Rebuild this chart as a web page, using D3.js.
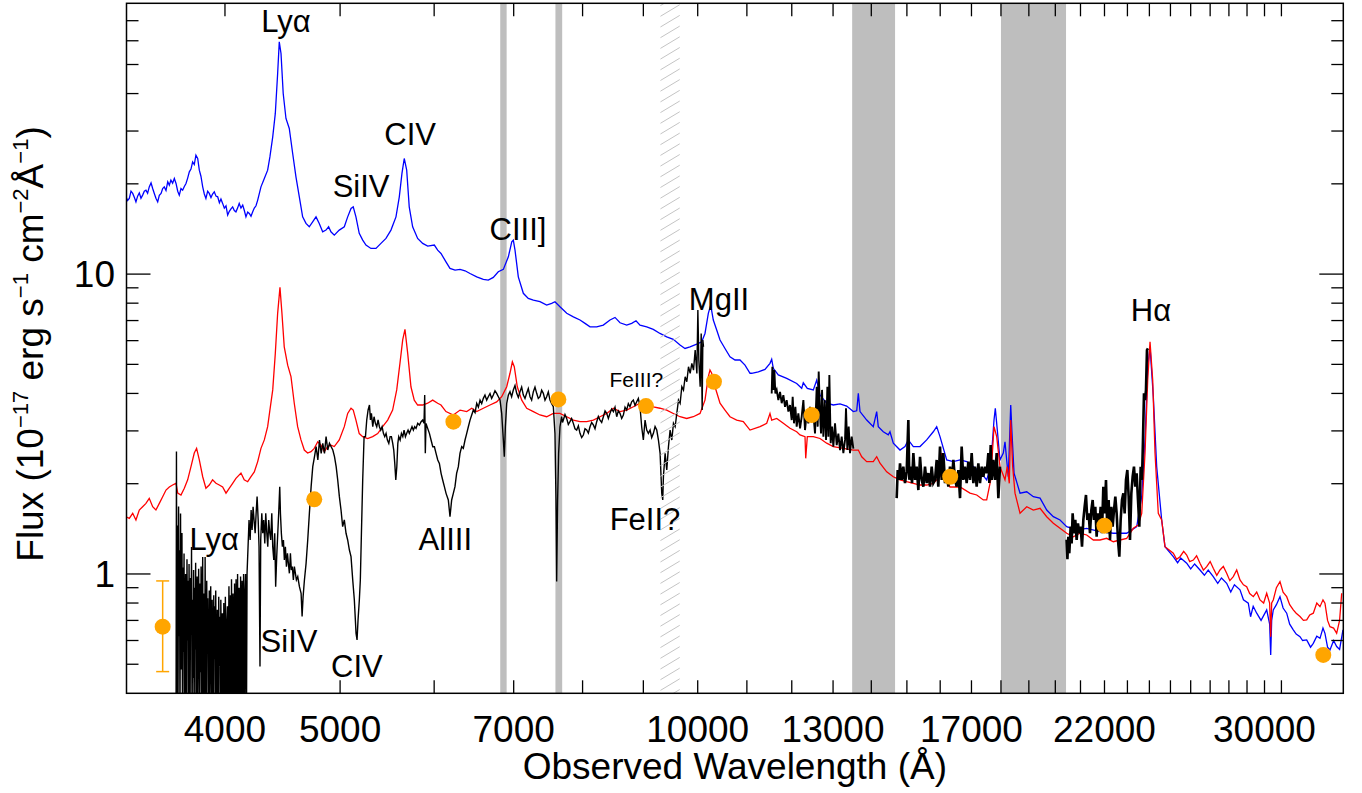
<!DOCTYPE html>
<html><head><meta charset="utf-8">
<script src="https://cdn.jsdelivr.net/npm/d3@7"></script>
<style>body{margin:0;background:#fff}svg{display:block}text{font-family:"Liberation Sans",Arial,Helvetica,sans-serif;fill:#000}</style>
</head><body>
<script>
// ---------------- data ----------------
const blueSpec = [[3302,18.1],[3312,17.6],[3323,17.88],[3334,18.9],[3345,18.58],[3356,18.0],[3366,17.42],[3377,18.2],[3388,18.66],[3399,17.9],[3410,18.34],[3421,18.9],[3432,19.05],[3443,18.6],[3454,19.54],[3466,20.15],[3477,19.3],[3488,18.58],[3499,17.9],[3511,17.42],[3522,18.3],[3534,18.58],[3545,19.3],[3556,19.54],[3568,19.0],[3580,20.31],[3591,19.8],[3602,20.57],[3614,20.1],[3626,20.84],[3638,20.06],[3650,18.9],[3661,18.34],[3673,19.3],[3685,19.05],[3697,19.6],[3709,20.06],[3721,20.9],[3733,21.93],[3745,22.4],[3757,23.67],[3769,23.2],[3781,24.93],[3794,24.3],[3806,22.22],[3818,21.2],[3831,19.54],[3843,18.5],[3855,17.88],[3868,18.9],[3880,18.58],[3893,18.0],[3905,18.5],[3918,18.81],[3931,18.2],[3944,18.1],[3957,17.3],[3969,17.8],[3982,17.21],[3995,16.6],[4008,16.9],[4021,15.73],[4034,16.2],[4047,16.5],[4060,16.76],[4073,16.3],[4086,16.13],[4099,16.6],[4112,17.21],[4126,16.6],[4140,16.98],[4153,16.3],[4166,15.52],[4180,16.1],[4193,15.93],[4207,15.6],[4221,16.13],[4234,16.6],[4248,16.9],[4262,17.65],[4289,19.54],[4317,20.84],[4345,22.22],[4364,24.6],[4388,28.69],[4410,34.34],[4430,46.67],[4444,59.48],[4459,54.41],[4478,40.03],[4502,33.04],[4531,30.59],[4561,25.25],[4590,21.1],[4620,18.1],[4650,15.52],[4680,14.76],[4710,14.38],[4741,14.94],[4772,15.52],[4802,14.76],[4834,13.84],[4865,14.02],[4890,14.38],[4912,13.84],[4944,13.49],[4992,14.02],[5041,14.38],[5074,15.52],[5107,16.56],[5129,16.76],[5156,15.52],[5189,13.67],[5224,12.98],[5257,12.5],[5308,12.18],[5360,12.18],[5412,12.66],[5465,13.15],[5518,14.02],[5572,15.52],[5608,18.1],[5637,21.66],[5662,24.3],[5689,22.22],[5717,16.76],[5755,14.38],[5811,13.15],[5868,12.66],[5925,12.4],[6002,12.5],[6041,12.02],[6080,11.72],[6139,10.99],[6187,10.45],[6248,10.31],[6309,10.37],[6370,10.26],[6432,10.05],[6516,9.79],[6600,9.6],[6664,9.55],[6729,9.75],[6794,10.18],[6861,10.37],[6928,11.42],[6974,12.82],[6995,12.98],[7018,12.02],[7063,9.79],[7132,8.63],[7201,8.3],[7272,8.19],[7366,8.09],[7462,7.88],[7535,7.99],[7583,8.09],[7657,7.78],[7758,7.4],[7858,7.2],[7960,7.03],[8038,6.85],[8116,6.67],[8222,6.67],[8328,6.76],[8437,7.03],[8519,7.17],[8602,6.88],[8714,6.76],[8799,6.85],[8873,6.99],[8942,6.76],[9059,6.67],[9175,6.54],[9295,6.34],[9417,6.18],[9538,6.06],[9663,5.8],[9757,5.65],[9852,5.72],[9981,5.84],[10078,5.95],[10142,6.34],[10208,7.4],[10255,7.88],[10307,7.03],[10375,6.51],[10442,6.03],[10543,5.65],[10646,5.3],[10750,5.17],[10854,5.17],[10960,4.97],[11067,4.67],[11103,4.67],[11247,4.72],[11393,4.81],[11504,5.04],[11542,5.2],[11578,4.85],[11691,4.61],[11883,4.49],[12115,4.32],[12233,4.16],[12271,4.34],[12367,4.16],[12512,4.11],[12594,4.43],[12675,3.95],[12840,3.71],[13006,3.66],[13176,3.69],[13348,3.63],[13520,3.48],[13610,3.5],[13652,4.0],[13697,3.48],[13876,3.26],[14054,3.1],[14147,3.48],[14191,3.1],[14329,2.98],[14469,2.91],[14516,2.98],[14610,2.73],[14801,2.59],[14945,2.66],[15041,2.8],[15188,2.66],[15386,2.66],[15586,2.8],[15787,2.98],[15892,3.1],[15994,2.87],[16203,2.4],[16412,2.37],[16627,2.4],[16844,2.37],[17061,2.28],[17284,2.19],[17509,2.06],[17646,2.28],[17759,3.26],[17804,3.57],[17873,3.02],[17966,2.4],[18082,2.53],[18141,2.76],[18201,2.4],[18258,2.11],[18344,3.66],[18390,2.94],[18462,2.17],[18678,1.86],[18922,1.88],[19166,1.81],[19417,1.79],[19669,1.634],[19923,1.553],[20183,1.514],[20447,1.438],[20847,1.402],[21255,1.42],[21809,1.384],[22380,1.367],[22968,1.367],[23418,1.438],[23646,1.81],[23798,2.8],[23922,4.91],[24030,5.72],[24184,3.9],[24342,2.28],[24579,1.514],[24737,1.233],[25139,1.142],[25350,1.09],[25500,1.13],[25800,1.086],[26000,1.04],[26200,1.08],[26474,1.031],[26700,0.99],[26900,1.03],[27164,0.98],[27400,0.93],[27600,0.97],[27879,0.931],[28100,0.87],[28300,0.92],[28608,0.885],[28800,0.82],[29072,0.799],[29200,0.72],[29350,0.78],[29550,0.74],[29800,0.7],[30127,0.759],[30300,0.68],[30362,0.537],[30420,0.7],[30514,0.759],[30700,0.79],[30913,0.84],[31100,0.77],[31318,0.74],[31500,0.68],[31721,0.651],[31900,0.63],[32136,0.618],[32300,0.6],[32556,0.603],[32800,0.57],[32975,0.587],[33200,0.62],[33406,0.61],[33600,0.66],[33729,0.634],[33900,0.57],[34058,0.558],[34300,0.6],[34503,0.573],[34700,0.56],[34927,0.651]];

const redSpec = [[3302,1.552],[3323,1.533],[3345,1.593],[3366,1.514],[3388,1.634],[3410,1.676],[3432,1.72],[3454,1.788],[3477,1.676],[3499,1.634],[3522,1.72],[3545,1.81],[3568,1.905],[3591,1.95],[3614,1.98],[3638,2.006],[3650,1.86],[3673,1.834],[3697,1.931],[3721,2.06],[3745,2.28],[3769,2.53],[3786,2.624],[3806,2.4],[3831,2.11],[3855,1.931],[3880,1.98],[3905,2.06],[3931,2.006],[3956,1.98],[3982,1.95],[4008,1.86],[4033,1.931],[4060,2.006],[4086,2.084],[4126,2.17],[4152,2.06],[4180,2.031],[4207,2.11],[4234,2.19],[4262,2.37],[4289,2.624],[4317,2.8],[4345,3.1],[4364,3.52],[4388,4.11],[4410,5.44],[4430,7.4],[4450,9.03],[4467,7.4],[4487,5.72],[4517,4.97],[4546,4.55],[4575,3.71],[4605,3.1],[4635,2.8],[4665,2.59],[4695,2.53],[4726,2.557],[4756,2.624],[4788,2.76],[4818,2.69],[4849,2.557],[4881,2.66],[4912,2.69],[4944,2.66],[4992,2.8],[5041,3.1],[5074,3.43],[5107,3.57],[5129,3.52],[5156,3.26],[5189,2.94],[5224,2.87],[5274,2.83],[5326,2.87],[5378,2.94],[5430,3.1],[5483,3.26],[5536,3.52],[5580,4.11],[5615,5.04],[5645,6.03],[5670,6.54],[5700,5.44],[5736,4.21],[5773,3.8],[5811,3.66],[5868,3.66],[5925,3.71],[5983,3.8],[6041,3.71],[6080,3.66],[6139,3.48],[6227,3.39],[6309,3.52],[6391,3.48],[6453,3.57],[6516,3.48],[6600,3.57],[6686,3.66],[6773,3.75],[6839,3.9],[6906,4.21],[6950,4.67],[6982,5.1],[7008,4.91],[7049,4.21],[7110,3.8],[7179,3.57],[7272,3.48],[7366,3.39],[7462,3.345],[7558,3.43],[7657,3.43],[7758,3.345],[7858,3.26],[7960,3.22],[8065,3.22],[8168,3.26],[8275,3.345],[8383,3.43],[8491,3.57],[8602,3.48],[8714,3.52],[8827,3.61],[8942,3.71],[9059,3.66],[9175,3.61],[9295,3.57],[9417,3.52],[9538,3.43],[9663,3.345],[9789,3.3],[9915,3.345],[10045,3.43],[10142,3.8],[10208,4.55],[10241,4.79],[10275,4.67],[10341,4.21],[10442,3.71],[10543,3.52],[10646,3.345],[10785,3.26],[10924,3.22],[11067,3.02],[11284,3.1],[11431,3.18],[11504,3.43],[11542,3.26],[11655,3.3],[11805,3.18],[11959,3.06],[12115,2.98],[12193,2.91],[12312,2.87],[12329,2.43],[12367,2.87],[12512,2.87],[12675,2.83],[12840,2.73],[13006,2.66],[13261,2.624],[13520,2.59],[13652,2.59],[13742,2.46],[13876,2.37],[14054,2.37],[14147,2.46],[14238,2.34],[14424,2.19],[14610,2.11],[14801,2.06],[14995,2.031],[15188,2.006],[15386,1.98],[15586,1.98],[15787,2.006],[15994,2.11],[16047,2.53],[16097,2.19],[16307,1.95],[16627,1.95],[16952,1.86],[17174,1.834],[17395,1.766],[17509,1.766],[17646,2.06],[17759,3.1],[17852,2.87],[17966,2.28],[18141,2.06],[18222,2.28],[18293,2.006],[18344,3.26],[18414,2.28],[18497,1.86],[18678,1.593],[18922,1.676],[19166,1.634],[19417,1.656],[19669,1.552],[19923,1.476],[20183,1.42],[20447,1.367],[20710,1.331],[20981,1.367],[21255,1.349],[21530,1.298],[21809,1.298],[22093,1.315],[22380,1.281],[22671,1.298],[22968,1.315],[23263,1.42],[23490,1.457],[23646,1.593],[23798,2.53],[23922,4.43],[24030,5.95],[24155,4.43],[24264,2.53],[24418,1.593],[24579,1.514],[24737,1.233],[25139,1.172],[25300,1.12],[25467,1.142],[25650,1.19],[25800,1.157],[25950,1.1],[26133,1.113],[26300,1.15],[26474,1.086],[26650,1.03],[26821,1.058],[27000,1.1],[27164,1.045],[27350,0.99],[27520,1.031],[27700,1.06],[27879,1.005],[28050,0.95],[28239,0.98],[28426,1.031],[28608,0.955],[28800,0.92],[28982,0.907],[29150,0.86],[29356,0.84],[29550,0.87],[29740,0.819],[29950,0.8],[30127,0.862],[30300,0.8],[30362,0.618],[30420,0.8],[30514,0.819],[30700,0.9],[30913,0.943],[31100,0.87],[31318,0.84],[31500,0.79],[31721,0.759],[31900,0.74],[32136,0.721],[32350,0.7],[32556,0.703],[32750,0.73],[32975,0.74],[33200,0.8],[33406,0.778],[33600,0.82],[33729,0.799],[33900,0.7],[34058,0.667],[34300,0.66],[34503,0.634],[34700,0.7],[34841,0.862]];

// black: observed spectrum, optical part
const blackOpt = [[3638,0.3],[3641,2.56],[3645,0.3],[3648,1.45],[3652,0.35],[3656,1.68],[3659,0.62],[3663,1.2],[3666,0.3],[3670,1.59],[3673,0.48],[3677,0.9],[3680,1.37],[3684,0.3],[3688,1.05],[3691,0.55],[3695,1.17],[3698,0.3],[3702,0.74],[3706,1.0],[3709,0.42],[3713,0.3],[3716,1.12],[3720,0.6],[3724,0.95],[3727,0.3],[3731,1.08],[3735,0.5],[3738,0.3],[3742,0.97],[3746,0.66],[3749,1.23],[3753,0.3],[3757,0.82],[3760,0.45],[3764,1.03],[3768,0.3],[3771,0.9],[3775,0.56],[3779,1.09],[3782,0.3],[3786,0.7],[3790,0.98],[3793,0.3],[3797,0.52],[3801,1.04],[3805,0.65],[3808,0.3],[3812,0.93],[3816,0.47],[3819,1.06],[3823,0.3],[3827,0.76],[3831,1.14],[3834,0.3],[3838,0.58],[3842,0.86],[3846,0.3],[3849,1.14],[3853,0.5],[3857,0.3],[3861,0.95],[3864,0.63],[3868,0.83],[3872,0.3],[3876,0.5],[3880,0.88],[3883,0.3],[3887,0.7],[3891,0.91],[3895,0.45],[3899,0.3],[3902,0.82],[3906,0.6],[3910,0.3],[3914,0.85],[3918,0.52],[3922,0.78],[3925,0.3],[3929,0.88],[3933,0.45],[3937,0.3],[3941,0.76],[3945,0.58],[3949,0.3],[3952,0.84],[3956,0.49],[3960,0.72],[3964,0.3],[3968,0.82],[3972,0.55],[3976,0.3],[3980,0.74],[3984,0.46],[3988,0.3],[3991,0.8],[3995,0.6],[3999,0.3],[4003,0.84],[4007,0.5],[4011,0.3],[4015,0.7],[4019,0.78],[4023,0.3],[4027,0.55],[4031,0.91],[4035,0.3],[4039,0.62],[4043,0.85],[4047,0.3],[4051,0.96],[4055,0.54],[4059,0.3],[4063,0.86],[4067,0.66],[4071,0.3],[4075,0.93],[4079,0.48],[4083,0.3],[4087,0.96],[4091,0.7],[4095,0.3],[4099,1.0],[4103,0.6],[4107,0.3],[4111,0.9],[4115,0.72],[4119,0.3],[4123,0.98],[4127,0.55],[4131,0.3],[4135,0.95],[4139,0.78],[4143,0.3],[4147,1.0],[4151,0.62],[4155,0.3],[4159,0.88],[4163,1.0],[4167,0.45],[4170,0.3],
[4175,1.005],[4183,1.233],[4191,1.514],[4200,1.298],[4208,1.634],[4216,1.402],[4224,1.676],[4232,1.514],[4241,1.367],[4249,1.593],[4257,1.811],[4266,1.514],[4273,1.233],[4281,0.491],[4287,1.298],[4296,1.593],[4304,1.367],[4312,1.514],[4321,1.265],[4329,1.593],[4338,1.367],[4346,1.233],[4354,1.514],[4363,1.367],[4371,1.298],[4380,1.593],[4388,1.233],[4397,1.113],[4405,1.367],[4413,0.907],[4422,1.142],[4431,1.367],[4439,1.593],[4448,1.955],[4454,1.593],[4462,1.367],[4471,1.233],[4480,1.298],[4488,1.113],[4497,1.233],[4506,1.058],[4515,1.172],[4523,1.085],[4532,1.005],[4541,1.172],[4549,1.031],[4558,1.058],[4567,0.955],[4576,1.058],[4585,1.005],[4594,0.955],[4606,0.98],[4621,0.907],[4636,0.862],[4645,0.721],[4654,0.84],[4666,0.955],[4681,1.085],[4696,1.298],[4711,1.593],[4727,1.955],[4742,2.279],[4758,2.461],[4773,2.657],[4789,2.399],[4804,2.797],[4820,2.525],[4835,2.727],[4851,2.525],[4866,2.87],[4882,2.59],[4898,2.727],[4914,2.657],[4930,2.59],[4946,2.461],[4962,2.279],[4977,2.058],[4993,1.811],[5009,1.634],[5025,1.438],[5041,1.514],[5058,1.367],[5074,1.298],[5091,1.202],[5107,1.142],[5124,0.955],[5140,0.819],[5157,0.634],[5167,0.603],[5177,0.703],[5190,0.819],[5200,0.955],[5211,1.367],[5224,2.058],[5238,2.87],[5252,2.87],[5265,3.262],[5279,3.522],[5293,3.659],[5303,3.262],[5313,3.433],[5327,3.098],[5340,3.345],[5354,3.179],[5368,3.098],[5382,3.262],[5396,3.098],[5410,3.02],[5424,3.098],[5438,2.944],[5452,2.87],[5466,2.944],[5480,2.797],[5495,2.727],[5509,2.87],[5523,2.87],[5537,2.727],[5548,2.59],[5559,2.338],[5570,2.058],[5581,2.279],[5592,2.727],[5602,2.87],[5617,2.797],[5631,2.944],[5646,2.87],[5660,3.02],[5675,2.87],[5689,2.944],[5704,3.02],[5718,2.944],[5733,3.02],[5748,3.098],[5763,3.02],[5778,3.098],[5793,3.059],[5812,3.179],[5831,3.139],[5850,3.22],[5868,3.262],[5883,3.179],[5891,3.951],[5898,2.525],[5906,3.179],[5925,3.059],[5945,2.944],[5964,2.797],[5984,2.657],[6003,2.657],[6022,2.525],[6042,2.399],[6061,2.338],[6081,2.166],[6100,2.058],[6120,1.955],[6140,1.857],
[6167,1.765],[6187,1.553],[6207,1.765],[6227,1.857],[6247,1.955],[6267,2.166],[6288,2.279],[6308,2.525],[6329,2.658],[6349,2.624],[6370,2.797],[6391,2.944],[6411,3.098],[6432,3.26],[6453,3.388],[6474,3.522],[6495,3.45],[6516,3.706],[6537,3.6],[6558,3.802],[6579,3.7],[6600,3.851],[6621,3.95],[6643,3.8],[6664,3.901],[6686,4.0],[6707,3.85],[6729,3.951],[6751,4.08],[6773,4.003],[6795,3.9],[6817,3.802],[6839,3.433],[6861,2.797],[6874,2.461],[6888,3.098],[6906,3.706],[6928,3.95],[6950,4.054],[6972,3.9],[6995,4.106],[7018,4.25],[7041,4.003],[7063,3.88],[7086,4.054],[7109,4.2],[7132,3.951],[7155,3.85],[7178,4.003],[7201,4.15],[7225,3.901],[7248,3.8],[7272,4.054],[7295,4.2],[7319,4.003],[7342,3.85],[7366,3.901],[7390,4.1],[7414,4.003],[7438,3.8],[7462,3.901],[7486,4.05],[7510,3.802],[7535,3.7],[7559,3.612],[7583,2.944],[7598,1.765],[7608,0.943],[7622,1.765],[7637,2.525],[7657,3.098],[7682,3.345],[7695,3.2],[7707,3.26],[7732,3.4],[7757,3.302],[7782,3.15],[7807,3.22],[7832,3.3],[7858,3.179],[7883,3.05],[7909,3.02],[7935,3.12],[7960,2.944],[7986,2.85],[8012,2.906],[8038,3.05],[8064,3.02],[8090,2.95],[8116,3.098],[8142,3.2],[8169,3.14],[8195,3.05],[8222,3.22],[8248,3.35],[8275,3.26],[8302,3.2],[8329,3.345],[8356,3.5],[8383,3.433],[8410,3.3],[8437,3.433],[8464,3.55],[8492,3.477],[8519,3.6],[8547,3.345],[8574,3.5],[8602,3.433],[8630,3.3],[8658,3.388],[8686,3.6],[8714,3.522],[8742,3.7],[8770,3.612],[8798,3.75],[8827,3.802],[8856,3.65],[8885,3.753],[8913,3.85],[8942,3.612],[8971,3.098],[9000,2.797],[9030,3.26],[9059,3.02],[9088,2.944],[9118,3.02],[9147,2.85],[9177,2.944],[9207,3.1],[9237,3.02],[9267,2.797],[9297,2.525],[9327,1.857],[9345,1.765],[9357,2.112],[9388,2.525],[9418,2.222],[9449,2.658],[9479,3.02],[9510,2.797],[9541,3.179],[9572,3.098],[9603,3.433],[9634,3.802],[9665,3.706],[9697,4.212],[9728,4.106],[9760,4.548],[9791,4.377],[9823,4.911],[9855,4.666],[9887,5.038],[9919,4.786],[9951,5.58],[9984,4.666],[10003,7.586],[10022,5.169],[10048,4.212],[10068,6.343],[10087,3.522],[10100,6.026],[10113,5.726]];

// black: J band
const blackJ = [[11542,4.0],[11557,4.91],[11579,4.11],[11602,4.79],[11624,4.0],[11654,4.11],[11692,3.8],[11730,4.05],[11768,3.71],[11806,3.95],[11844,3.61],[11882,3.8],[11921,3.48],[11959,3.66],[11998,3.26],[12021,3.9],[12052,3.18],[12084,3.61],[12115,3.1],[12154,3.43],[12194,3.06],[12233,3.35],[12273,3.8],[12312,3.02],[12352,3.43],[12392,3.18],[12432,3.61],[12472,3.26],[12513,3.43],[12553,2.94],[12594,4.21],[12618,3.1],[12643,4.73],[12675,3.43],[12700,2.94],[12725,4.11],[12758,2.87],[12791,3.8],[12824,2.8],[12857,4.21],[12882,2.87],[12907,4.61],[12940,2.73],[12974,3.1],[13007,2.66],[13049,3.18],[13092,2.69],[13134,2.94],[13177,2.59],[13219,2.87],[13262,2.53],[13305,2.8],[13330,3.57],[13365,2.59],[13400,3.1],[13434,2.53],[13478,2.87],[13522,2.62]];

// black: H band
const blackH = [[14706,1.79],[14735,2.22],[14773,2.06],[14801,2.34],[14849,2.06],[14897,2.28],[14945,2.01],[14994,2.19],[15042,3.26],[15071,2.06],[15110,2.28],[15150,2.01],[15189,2.53],[15238,2.06],[15287,2.28],[15337,1.905],[15387,2.46],[15436,2.06],[15486,1.955],[15536,2.28],[15587,2.01],[15637,2.17],[15688,1.955],[15738,2.28],[15789,2.01],[15840,2.06],[15891,2.4],[15942,1.955],[15994,2.66],[16046,2.06],[16098,2.53],[16150,2.01],[16203,2.17],[16255,1.955],[16307,2.28],[16360,2.01],[16414,2.4],[16467,2.06],[16520,1.955],[16573,2.22],[16627,1.79],[16680,2.66],[16734,2.06],[16788,2.28],[16843,2.01],[16897,2.37],[16952,2.06],[17007,2.53],[17062,2.01],[17117,2.28],[17172,1.955],[17228,2.34],[17284,2.01],[17340,2.28],[17396,2.11],[17452,2.28],[17509,2.17],[17565,2.53],[17599,2.01],[17645,2.69],[17679,2.06],[17736,2.4],[17793,2.06],[17851,2.53],[17909,1.79],[17967,2.28]];

// black: K band
const blackK = [[20440,1.30],[20475,1.12],[20510,1.331],[20550,1.172],[20604,1.438],[20643,1.265],[20683,1.593],[20737,1.367],[20790,1.514],[20844,1.298],[20898,1.475],[20953,1.367],[21007,1.438],[21062,1.233],[21116,1.514],[21170,1.676],[21225,1.834],[21280,1.514],[21335,1.593],[21390,1.367],[21446,1.634],[21501,1.765],[21557,1.514],[21612,1.676],[21668,1.331],[21724,1.593],[21781,1.438],[21837,1.676],[21894,1.367],[21950,1.955],[22007,1.593],[22064,2.058],[22121,1.367],[22178,1.765],[22236,1.298],[22294,1.676],[22351,1.438],[22409,1.634],[22467,1.811],[22525,1.593],[22583,1.298],[22642,1.142],[22700,1.514],[22759,1.765],[22818,1.857],[22877,1.593],[22936,2.058],[22996,2.222],[23055,1.811],[23115,1.298],[23175,1.857],[23234,2.11],[23294,2.279],[23354,1.955],[23415,2.166],[23476,1.765],[23537,1.438],[23598,2.279],[23658,2.058],[23704,2.797],[23750,4.001],[23796,3.8],[23842,4.106],[23888,5.58],[23934,5.653]];

// photometry (orange)
const photWave = [3545,4756,6228,7633,9046,10320,12473,16313,21995,33620];
const photFlux = [0.667,1.774,3.22,3.82,3.63,4.375,3.39,2.11,1.449,0.537];
const photErrLo = [0.4725,null,null,null,null,null,null,null,null,null];
const photErrHi = [0.948,null,null,null,null,null,null,null,null,null];

// masked (telluric) regions
const grayBands = [[6820,6905],[7590,7690],[13490,14660],[18000,20420]];
const hatchBand = [9300,9660];

// axis ticks
const xTickVals = d3.range(4000, 32000, 1000);
const xTickLabels = [4000,5000,7000,10000,13000,17000,22000,30000];
const yMajor = [1,10];
const yMinor = [0.5,0.6,0.7,0.8,0.9,2,3,4,5,6,7,8,9,20,30,40,50,60,70];

// line labels (wavelength / flux of the text anchor)
const labels = [
  {t:"Lyα", w:4502, f:64.2, s:31},
  {t:"SiIV", w:5208, f:18.1, s:31},
  {t:"CIV", w:5727, f:26.9, s:31},
  {t:"CIII]", w:7059, f:12.98, s:31},
  {t:"MgII", w:10421, f:7.59, s:31},
  {t:"FeIII?", w:8878, f:4.21, s:21},
  {t:"FeII?", w:9029, f:1.402, s:31},
  {t:"AlIII", w:6131, f:1.202, s:31},
  {t:"Lyα", w:3917, f:1.202, s:31},
  {t:"SiIV", w:4529, f:0.551, s:31},
  {t:"CIV", w:5166, f:0.4546, s:31},
  {t:"Hα", w:24076, f:6.99, s:31}
];

// ---------------- drawing ----------------
const W = 1362, H = 793;
const L = 126.5, R = 1343.3, T = 3.3, B = 693.3;
const x = d3.scaleLog().domain([3305, 34950]).range([L, R]);
const y = d3.scaleLog().domain([0.4, 80]).range([B, T]);

const svg = d3.select("body").append("svg").attr("width", W).attr("height", H);
const defs = svg.append("defs");
defs.append("clipPath").attr("id","clip")
  .append("rect").attr("x",L).attr("y",T).attr("width",R-L).attr("height",B-T);

const plot = svg.append("g").attr("clip-path","url(#clip)");

// gray bands
plot.selectAll("rect.band").data(grayBands).join("rect")
  .attr("x", d=>x(d[0])).attr("width", d=>x(d[1])-x(d[0]))
  .attr("y", T).attr("height", B-T).attr("fill","#bebebe");

// hatched band
const hx0 = x(hatchBand[0]), hx1 = x(hatchBand[1]);
defs.append("clipPath").attr("id","hclip").append("rect")
  .attr("x",hx0).attr("y",T).attr("width",hx1-hx0).attr("height",B-T);
const hl = svg.append("g").attr("clip-path","url(#hclip)");
for (let yy = B + 40; yy > T - 40; yy -= 10.7) {
  hl.append("line").attr("x1",hx0).attr("y1",yy).attr("x2",hx1).attr("y2",yy-(hx1-hx0)*0.6)
    .attr("stroke","#c4c4c4").attr("stroke-width",1);
}

const line = d3.line().x(d=>x(d[0])).y(d=>y(d[1]));
plot.append("path").datum(blueSpec).attr("d",line).attr("fill","none").attr("stroke","#0000ff").attr("stroke-width",1.3);
plot.append("path").datum(redSpec).attr("d",line).attr("fill","none").attr("stroke","#ff0000").attr("stroke-width",1.3);
plot.append("path").datum(blackOpt).attr("d",line).attr("fill","none").attr("stroke","#000").attr("stroke-width",1.4);
plot.append("path").datum(blackJ).attr("d",line).attr("fill","none").attr("stroke","#000").attr("stroke-width",1.9);
plot.append("path").datum(blackH).attr("d",line).attr("fill","none").attr("stroke","#000").attr("stroke-width",2.6);
plot.append("path").datum(blackK).attr("d",line).attr("fill","none").attr("stroke","#000").attr("stroke-width",2.6);

// photometry
const phot = photWave.map((w,i)=>({w, f:photFlux[i], lo:photErrLo[i], hi:photErrHi[i]}));
const eb = svg.append("g");
phot.filter(d=>d.lo!=null).forEach(d=>{
  const cx = x(d.w);
  eb.append("line").attr("x1",cx).attr("x2",cx).attr("y1",y(d.lo)).attr("y2",y(d.hi)).attr("stroke","#ffa500").attr("stroke-width",1.5);
  [d.lo,d.hi].forEach(v=>eb.append("line").attr("x1",cx-6.5).attr("x2",cx+6.5).attr("y1",y(v)).attr("y2",y(v)).attr("stroke","#ffa500").attr("stroke-width",1.5));
});
svg.append("g").selectAll("circle").data(phot).join("circle")
  .attr("cx",d=>x(d.w)).attr("cy",d=>y(d.f)).attr("r",8).attr("fill","#ffa500");

// labels
svg.append("g").selectAll("text").data(labels).join("text")
  .attr("x",d=>x(d.w)).attr("y",d=>y(d.f)).attr("text-anchor","middle")
  .attr("font-size",d=>d.s).text(d=>d.t);

// frame
svg.append("rect").attr("x",L).attr("y",T).attr("width",R-L).attr("height",B-T)
  .attr("fill","none").attr("stroke","#000").attr("stroke-width",1.5);

// ticks
const tk = svg.append("g").attr("stroke","#000").attr("stroke-width",1.3);
xTickVals.forEach(v=>{
  const px = x(v);
  tk.append("line").attr("x1",px).attr("x2",px).attr("y1",B).attr("y2",B-13);
  tk.append("line").attr("x1",px).attr("x2",px).attr("y1",T).attr("y2",T+13);
});
yMajor.forEach(v=>{
  const py = y(v);
  tk.append("line").attr("x1",L).attr("x2",L+24).attr("y1",py).attr("y2",py);
  tk.append("line").attr("x1",R).attr("x2",R-24).attr("y1",py).attr("y2",py);
});
yMinor.forEach(v=>{
  const py = y(v);
  tk.append("line").attr("x1",L).attr("x2",L+12).attr("y1",py).attr("y2",py);
  tk.append("line").attr("x1",R).attr("x2",R-12).attr("y1",py).attr("y2",py);
});

// tick labels
svg.append("g").selectAll("text").data(xTickLabels).join("text")
  .attr("x",d=>x(d)).attr("y",741.5).attr("text-anchor","middle").attr("font-size",37).text(d=>d);
svg.append("g").selectAll("text").data(yMajor).join("text")
  .attr("x",115).attr("y",d=>y(d)+13).attr("text-anchor","end").attr("font-size",37).text(d=>d);

// axis titles
svg.append("text").attr("x",(L+R)/2).attr("y",779).attr("text-anchor","middle").attr("font-size",37)
  .text("Observed Wavelength (Å)");
const yt = svg.append("text").attr("transform","translate(43,344) rotate(-90)").attr("text-anchor","middle").attr("font-size",37);
const parts = [["Flux (10",0],["−17",1],[" erg s",0],["−1",1],[" cm",0],["−2",1],["Å",0],["−1",1],[")",0]];
let up = false;
parts.forEach(([s,sup])=>{
  const ts = yt.append("tspan").text(s);
  if (sup) { ts.attr("font-size",22).attr("dy", up ? 0 : -15); up = true; }
  else { ts.attr("dy", up ? 15 : 0); up = false; }
});
</script>
</body></html>
